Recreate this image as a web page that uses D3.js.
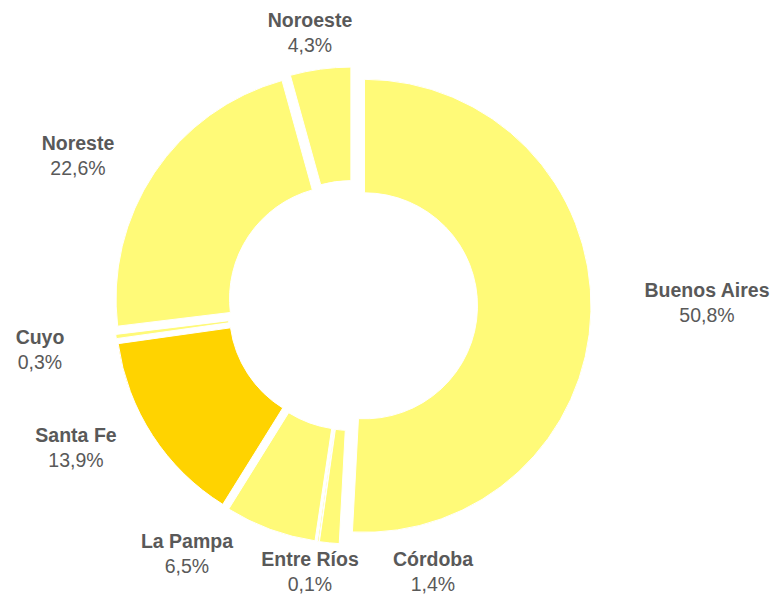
<!DOCTYPE html>
<html>
<head>
<meta charset="utf-8">
<title>Donut</title>
<script src="https://cdn.jsdelivr.net/npm/d3@7"></script>
<style>
  body { margin: 0; background: #fff; }
  text { font-family: "Liberation Sans", Arial, sans-serif; fill: #595959; }
</style>
</head>
<body>
<script>
// data
var regions = ['Buenos Aires', 'Córdoba', 'Entre Ríos', 'La Pampa', 'Santa Fe', 'Cuyo', 'Noreste', 'Noroeste']
var shares = [50.8, 1.4, 0.1, 6.5, 13.9, 0.3, 22.6, 4.3]
var pctLabels = ['50,8%', '1,4%', '0,1%', '6,5%', '13,9%', '0,3%', '22,6%', '4,3%']

// label layout (center x, baseline of first line)
var labelPos = [[707, 297], [433, 566], [310, 566], [187, 548], [76, 442], [40, 344], [78, 150], [310, 27]]

var w = 771, h = 594
var cx = 352.5, cy = 305.5
var outerR = 226.5, innerR = 113, explode = 12

var color = d3.scaleOrdinal()
    .domain(regions)
    .range(['#fffa78', '#fffa78', '#fffa78', '#fffa78', '#ffd300', '#fffa78', '#fffa78', '#fffa78'])

var svg = d3.select('body').append('svg')
    .attr('width', w)
    .attr('height', h)

var pie = d3.pie().sort(null).value(function (d) { return d.v })
var arcs = pie(regions.map(function (r, i) { return { name: r, v: shares[i] } }))

var arc = d3.arc().innerRadius(innerR).outerRadius(outerR)

var g = svg.append('g').attr('transform', 'translate(' + cx + ',' + cy + ')')

g.selectAll('path')
    .data(arcs)
    .enter()
    .append('path')
    .attr('d', arc)
    .attr('transform', function (d) {
        var m = (d.startAngle + d.endAngle) / 2
        return 'translate(' + (explode * Math.sin(m)) + ',' + (-explode * Math.cos(m)) + ')'
    })
    .attr('fill', function (d) { return color(d.data.name) })
    .attr('stroke', '#fff')
    .attr('stroke-width', 1)

// labels
var labels = svg.selectAll('g.lbl')
    .data(arcs)
    .enter()
    .append('g')
    .attr('class', 'lbl')

labels.append('text')
    .attr('x', function (d, i) { return labelPos[i][0] })
    .attr('y', function (d, i) { return labelPos[i][1] })
    .attr('text-anchor', 'middle')
    .attr('font-size', 19.5)
    .attr('font-weight', 'bold')
    .text(function (d) { return d.data.name })

labels.append('text')
    .attr('x', function (d, i) { return labelPos[i][0] })
    .attr('y', function (d, i) { return labelPos[i][1] + 25 })
    .attr('text-anchor', 'middle')
    .attr('font-size', 19.5)
    .text(function (d, i) { return pctLabels[i] })
</script>
</body>
</html>
